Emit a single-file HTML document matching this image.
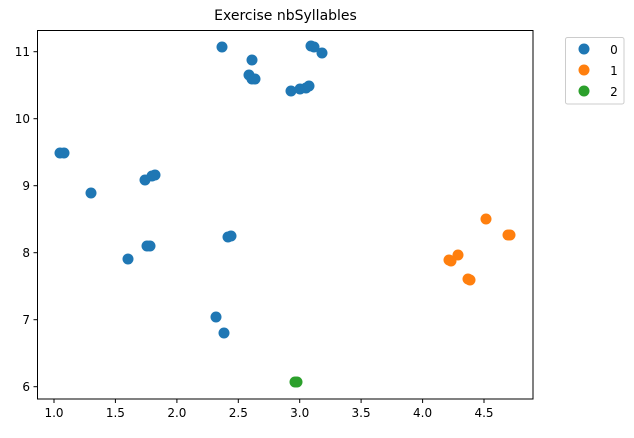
<!DOCTYPE html>
<html><head><style>body{margin:0;background:#fff}</style></head><body>
<svg width="634" height="433" xmlns="http://www.w3.org/2000/svg" font-family="DejaVu Sans, Liberation Sans, sans-serif">
<rect width="634" height="433" fill="#fff"/>
<text x="285.5" y="20" text-anchor="middle" font-size="14">Exercise nbSyllables</text>
<g fill="#1f77b4">
<circle cx="222" cy="47" r="5.5"/><circle cx="311" cy="46" r="5.5"/><circle cx="314" cy="47" r="5.5"/><circle cx="252" cy="60" r="5.5"/><circle cx="322" cy="53" r="5.5"/><circle cx="249" cy="75" r="5.5"/><circle cx="252" cy="79" r="5.5"/><circle cx="255" cy="79" r="5.5"/><circle cx="291" cy="91" r="5.5"/><circle cx="300" cy="89" r="5.5"/><circle cx="306" cy="88" r="5.5"/><circle cx="309" cy="86" r="5.5"/><circle cx="60" cy="153" r="5.5"/><circle cx="64" cy="153" r="5.5"/><circle cx="155" cy="175" r="5.5"/><circle cx="152" cy="176" r="5.5"/><circle cx="145" cy="180" r="5.5"/><circle cx="91" cy="193" r="5.5"/><circle cx="228" cy="237" r="5.5"/><circle cx="231" cy="236" r="5.5"/><circle cx="147" cy="246" r="5.5"/><circle cx="150" cy="246" r="5.5"/><circle cx="128" cy="259" r="5.5"/><circle cx="216" cy="317" r="5.5"/><circle cx="224" cy="333" r="5.5"/>
</g>
<g fill="#ff7f0e">
<circle cx="486" cy="219" r="5.5"/><circle cx="510" cy="235" r="5.5"/><circle cx="508" cy="235" r="5.5"/><circle cx="458" cy="255" r="5.5"/><circle cx="449" cy="260" r="5.5"/><circle cx="451" cy="261" r="5.5"/><circle cx="468" cy="279" r="5.5"/><circle cx="470" cy="280" r="5.5"/>
</g>
<g fill="#2ca02c"><circle cx="295" cy="382" r="5.5"/><circle cx="297" cy="382" r="5.5"/></g>
<rect x="37.5" y="30.5" width="495.5" height="368.5" fill="none" stroke="#000" stroke-width="1"/>
<g stroke="#000" stroke-width="1">
<line x1="54" y1="399" x2="54" y2="403"/><line x1="115.4" y1="399" x2="115.4" y2="403"/><line x1="176.9" y1="399" x2="176.9" y2="403"/><line x1="238.3" y1="399" x2="238.3" y2="403"/><line x1="299.7" y1="399" x2="299.7" y2="403"/><line x1="361.1" y1="399" x2="361.1" y2="403"/><line x1="422.6" y1="399" x2="422.6" y2="403"/><line x1="484" y1="399" x2="484" y2="403"/>
<line x1="33.5" y1="51.7" x2="37.5" y2="51.7"/><line x1="33.5" y1="118.7" x2="37.5" y2="118.7"/><line x1="33.5" y1="185.7" x2="37.5" y2="185.7"/><line x1="33.5" y1="252.7" x2="37.5" y2="252.7"/><line x1="33.5" y1="319.7" x2="37.5" y2="319.7"/><line x1="33.5" y1="386.7" x2="37.5" y2="386.7"/>
</g>
<g font-size="12" text-anchor="middle">
<text x="54" y="417">1.0</text><text x="115.4" y="417">1.5</text><text x="176.9" y="417">2.0</text><text x="238.3" y="417">2.5</text><text x="299.7" y="417">3.0</text><text x="361.1" y="417">3.5</text><text x="422.6" y="417">4.0</text><text x="484" y="417">4.5</text>
</g>
<g font-size="12" text-anchor="end">
<text x="30" y="56">11</text><text x="30" y="123">10</text><text x="30" y="190">9</text><text x="30" y="257">8</text><text x="30" y="324">7</text><text x="30" y="391">6</text>
</g>
<rect x="565.5" y="37.5" width="58.5" height="66.5" rx="2" fill="#fff" stroke="#ccc"/>
<circle cx="584" cy="49" r="5.5" fill="#1f77b4"/><circle cx="584" cy="70" r="5.5" fill="#ff7f0e"/><circle cx="584" cy="91" r="5.5" fill="#2ca02c"/>
<g font-size="12" text-anchor="middle"><text x="614" y="54">0</text><text x="614" y="75">1</text><text x="614" y="96">2</text></g>
</svg>
</body></html>
